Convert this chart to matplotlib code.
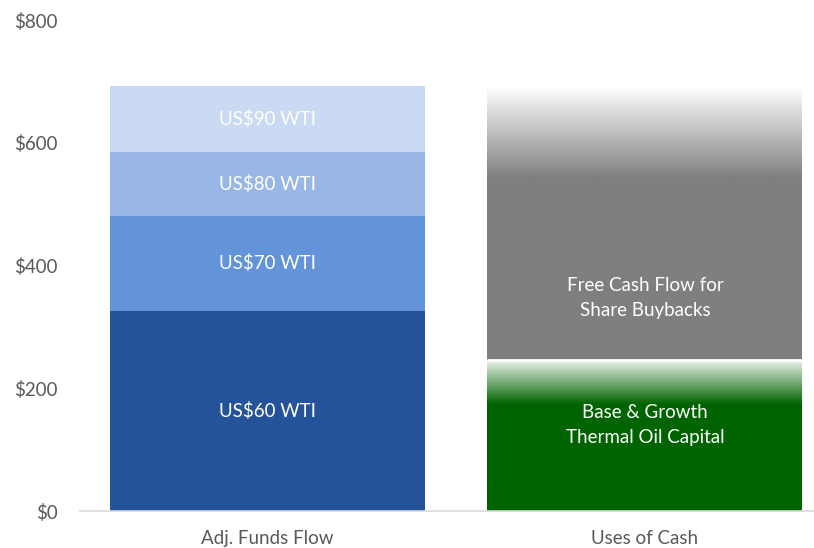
import numpy as np
import matplotlib.pyplot as plt
from matplotlib.colors import LinearSegmentedColormap

plt.rcParams['font.family'] = ['Lato', 'DejaVu Sans']

# data
categories = ["Adj. Funds Flow", "Uses of Cash"]
afs_labels = ["US$60 WTI", "US$70 WTI", "US$80 WTI", "US$90 WTI"]
afs_values = [326, 155, 104, 107]
afs_colors = ["#24539a", "#6394da", "#98b7e6", "#c9daf2"]
uses_labels = ["Base & Growth\nThermal Oil Capital", "Free Cash Flow for\nShare Buybacks"]
uses_values = [246, 446]
uses_colors = ["#006400", "#7f7f7f"]
uses_label_y = [140, 347]
yticks = [0, 200, 400, 600, 800]

fig = plt.figure(figsize=(8.14, 5.48), dpi=100)
ax = fig.add_axes([0.098, 0.0675, 0.902, 0.896])

width = 0.834
x = np.arange(len(categories))
fs = 13.5

# left stacked bar
bottom = 0
for lab, val, col in zip(afs_labels, afs_values, afs_colors):
    ax.bar(x[0], val, width, bottom=bottom, color=col, linewidth=0)
    ax.text(x[0], bottom + val / 2, lab, ha='center', va='center',
            color='white', fontsize=fs)
    bottom += val

# right stacked bar with faded tops
fade = [72, 150]  # fade height in data units
start = [0.08, 0.0]
bottom = 0
for lab, val, col, fd, st, ly in zip(uses_labels, uses_values, uses_colors, fade, start, uses_label_y):
    bar = ax.bar(x[1], val, width, bottom=bottom, color='none', linewidth=0)[0]
    top = bottom + val
    cmap = LinearSegmentedColormap.from_list('g', ['white', col])
    ys = np.linspace(top, bottom, 400)
    frac = st + (1 - st) * np.clip((top - ys) / fd, 0, 1)
    img = ax.imshow(frac[:, None], cmap=cmap, vmin=0, vmax=1, aspect='auto',
                    extent=[x[1] - width / 2, x[1] + width / 2, bottom, top],
                    interpolation='bilinear', zorder=2)
    img.set_clip_path(bar)
    bottom = top
    ax.text(x[1], ly, lab, ha='center', va='center',
            color='white', fontsize=fs, linespacing=1.6, zorder=3)

# separator between green and gray
ax.hlines(uses_values[0], x[1] - width / 2, x[1] + width / 2, color='white', lw=2, zorder=3)

ax.set_xlim(-0.497, 1.448)
ax.set_ylim(0, 800)
ax.set_yticks(yticks)
ax.set_yticklabels([f"${v}" for v in yticks])
ax.set_xticks(x)
ax.set_xticklabels(categories)
ax.tick_params(axis='both', length=0, labelsize=fs, labelcolor='#595959')
ax.tick_params(axis='y', pad=16)
ax.tick_params(axis='x', pad=14)
for s in ['top', 'right', 'left']:
    ax.spines[s].set_visible(False)
ax.spines['bottom'].set_color('#d9d9d9')
ax.spines['bottom'].set_linewidth(1.2)

fig.savefig('out.png', dpi=100)
